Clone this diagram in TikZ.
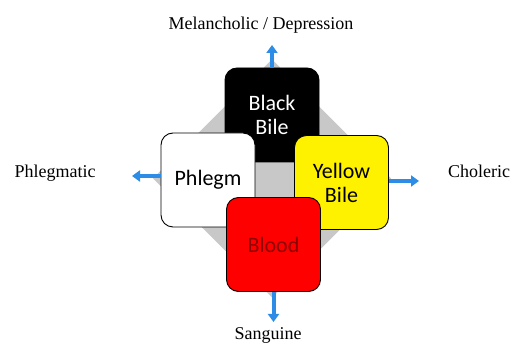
\documentclass[tikz,border=0pt]{standalone}
\usepackage{fontspec}
\setmainfont{Liberation Serif}
\newfontfamily\boxfont{Carlito}
\usetikzlibrary{arrows.meta}
\definecolor{arrowblue}{RGB}{45,140,230}
\definecolor{backgray}{RGB}{200,200,200}
\definecolor{darkblood}{RGB}{140,0,0}
\tikzset{
	humour/.style={draw=black, line width=0.9pt, rounded corners=12pt, minimum width=94pt, minimum height=94pt, inner sep=0pt, align=center, font=\boxfont\fontsize{22}{24}\selectfont}
}
\tikzset{
	temper/.style={font=\fontsize{18}{20}\selectfont, inner sep=0pt}
}
\tikzset{
	blockarrow/.style={draw=arrowblue, line width=4pt, -{Triangle[length=8pt,width=11pt]}}
}

\begin{document}
\begin{tikzpicture}[x=1pt, y=-1pt]
      \useasboundingbox (0,0) rectangle (528,355);
      % gray square behind the four humours
      \fill[backgray] (272,59.5) -- (391,178.5) -- (272,297.5) -- (153,178.5) -- cycle;

      \node[humour, fill=black, text=white] (black) at (272,115) {Black\\ Bile};
      \node[humour, fill=white] (phlegm) at (208,180) {Phlegm};
      \node[humour, fill=yellow] (yellow) at (341.5,182.5) {Yellow\\ Bile};
      \node[humour, fill=red, text=darkblood] (blood) at (273.5,244.5) {Blood};

      \node[temper] (melan) at (261,25) {Melancholic / Depression};
      \node[temper] (phlegmatic) at (55,173) {Phlegmatic};
      \node[temper] (choleric) at (479,171) {Choleric};
      \node[temper] (sanguine) at (268,335) {Sanguine};

      % free ends of the arrows
      \coordinate (topend) at (272,45);
      \coordinate (leftend) at (132,176);
      \coordinate (rightend) at (419,181);
      \coordinate (bottomend) at (273.5,322);

      \draw[blockarrow] (black.north) -- (topend);
      \draw[blockarrow] (phlegm.west |- leftend) -- (leftend);
      \draw[blockarrow] (yellow.east |- rightend) -- (rightend);
      \draw[blockarrow] (blood.south) -- (bottomend);
    \end{tikzpicture}
\end{document}
